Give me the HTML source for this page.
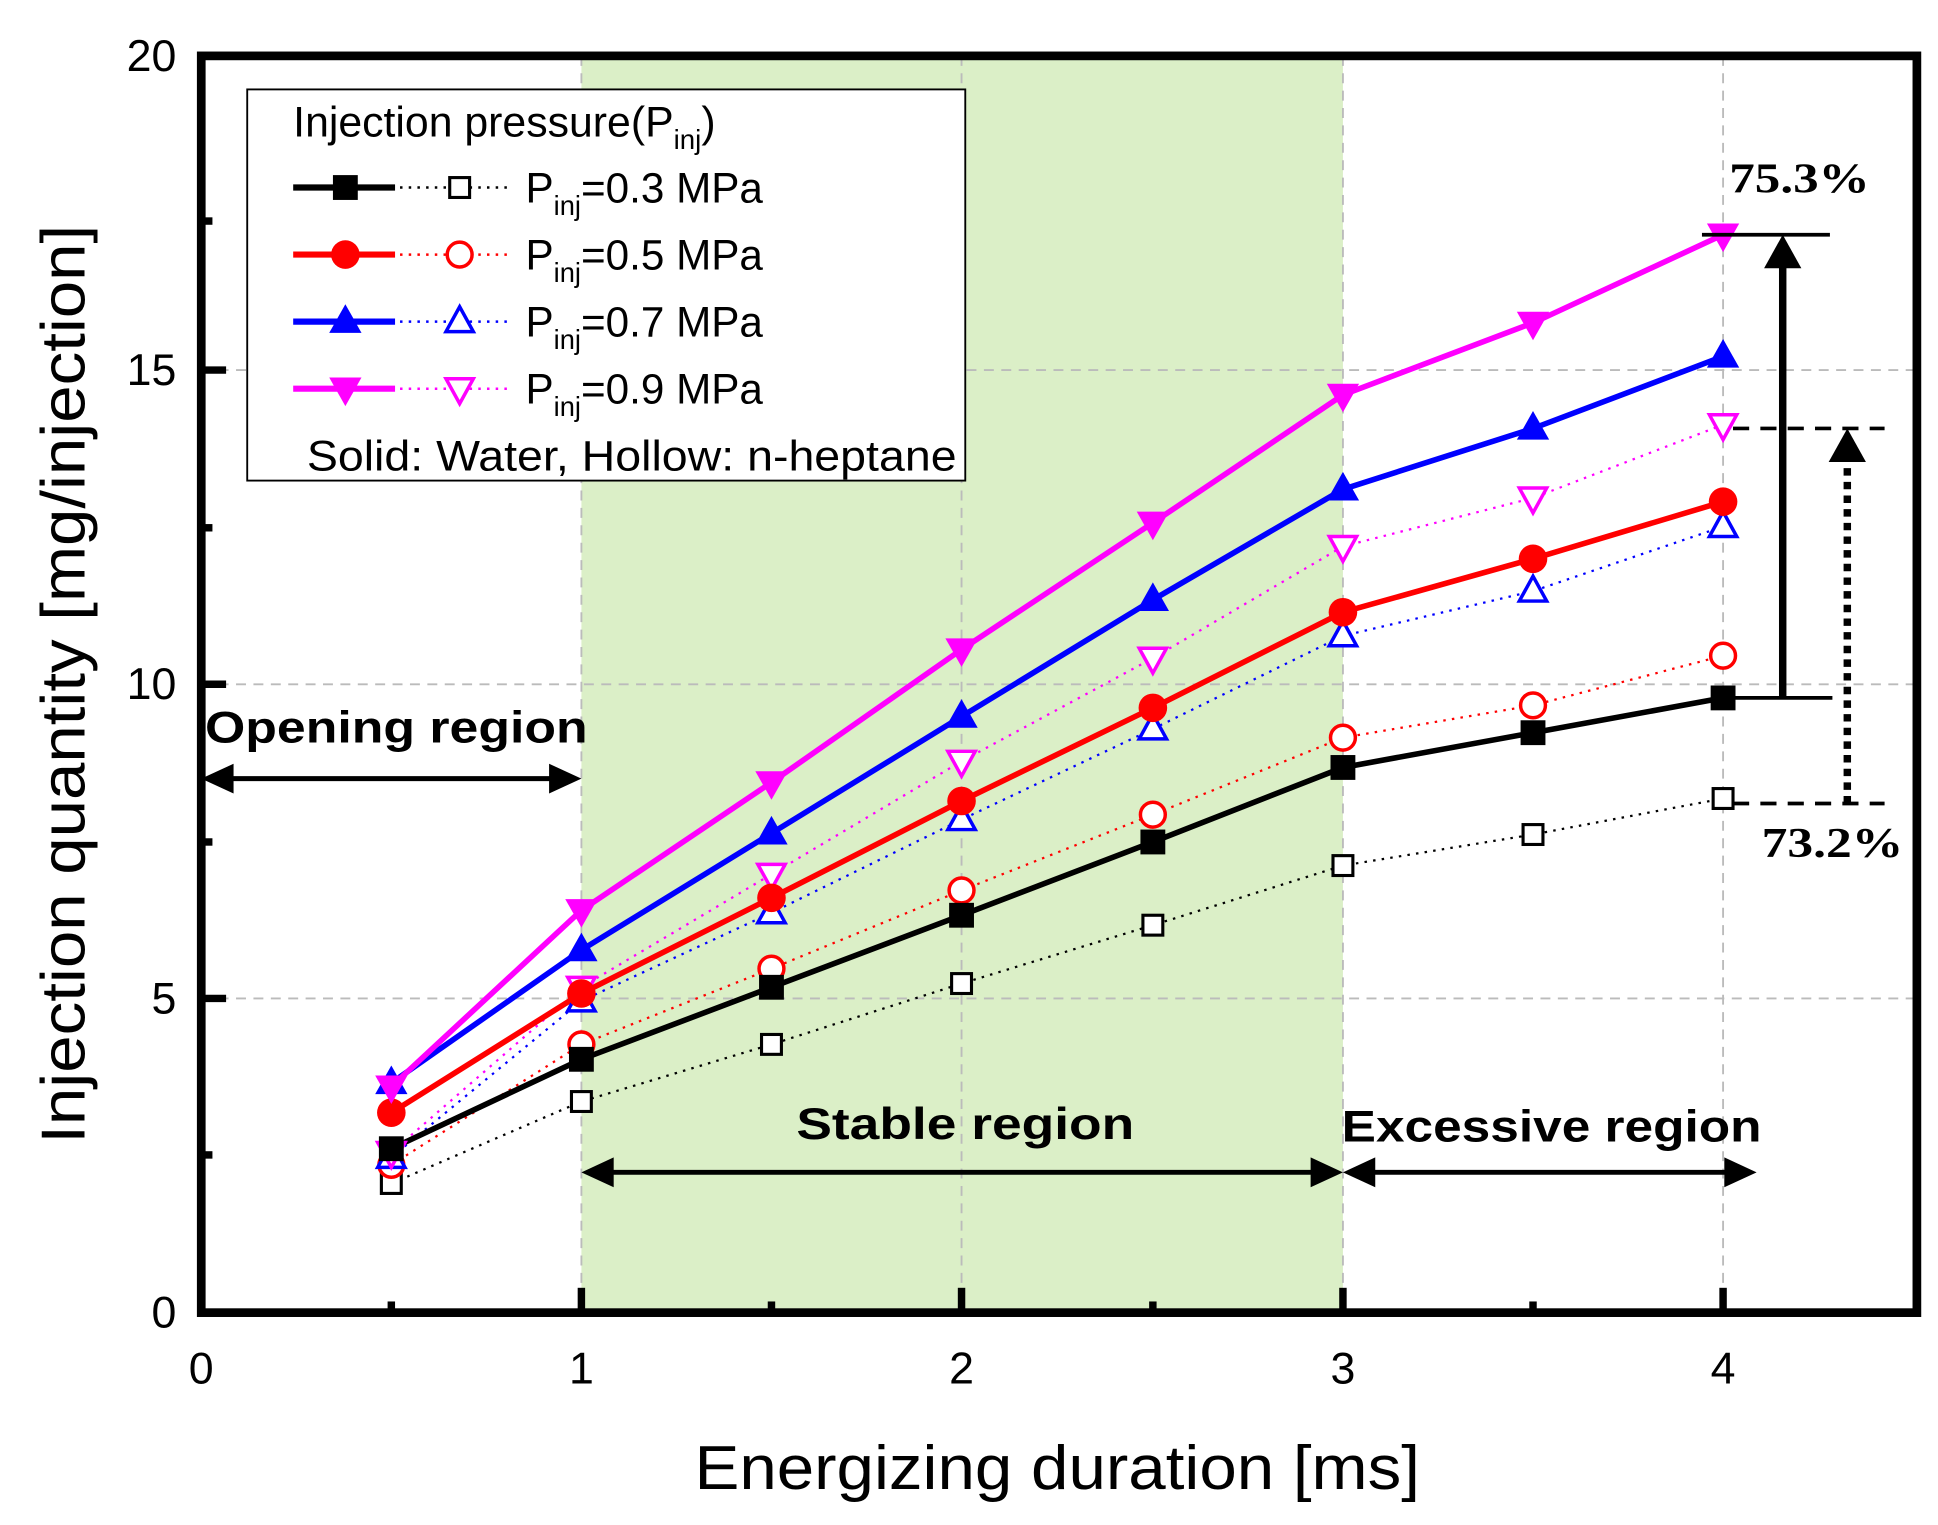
<!DOCTYPE html>
<html><head><meta charset="utf-8"><style>
html,body{margin:0;padding:0;background:#fff;}
svg{display:block;}
text{font-family:"Liberation Sans",sans-serif;}
</style></head><body>
<svg width="1938" height="1525" viewBox="0 0 1560 1228" preserveAspectRatio="none" xmlns="http://www.w3.org/2000/svg">
<defs>
<symbol id="sq" overflow="visible"><rect x="-10" y="-10" width="20" height="20" fill="#000"/></symbol>
<symbol id="hsq" overflow="visible"><rect x="-8" y="-8" width="16" height="16" fill="#fff" stroke="#000" stroke-width="2.5"/></symbol>
<symbol id="ci" overflow="visible"><circle r="11.5" fill="#f00"/></symbol>
<symbol id="hci" overflow="visible"><circle r="10" fill="#fff" stroke="#f00" stroke-width="2.8"/></symbol>
<symbol id="tu" overflow="visible"><polygon points="0,-14 13,9 -13,9" fill="#00f"/></symbol>
<symbol id="htu" overflow="visible"><polygon points="0,-12 11,8 -11,8" fill="#fff" stroke="#00f" stroke-width="2.8"/></symbol>
<symbol id="td" overflow="visible"><polygon points="0,14 13,-9 -13,-9" fill="#f0f"/></symbol>
<symbol id="htd" overflow="visible"><polygon points="0,12 11,-8 -11,-8" fill="#fff" stroke="#f0f" stroke-width="2.8"/></symbol>
</defs>
<rect width="1560" height="1228" fill="#fff"/>
<rect x="468" y="45" width="613" height="1012" fill="#dbefc7"/>
<g stroke="#bbb" stroke-width="1.5" stroke-dasharray="8,6">
<line x1="468" y1="45" x2="468" y2="1057"/><line x1="774" y1="45" x2="774" y2="1057"/>
<line x1="1081" y1="45" x2="1081" y2="1057"/><line x1="1387" y1="45" x2="1387" y2="1057"/>
<line x1="162" y1="804" x2="1543" y2="804"/><line x1="162" y1="551" x2="1543" y2="551"/><line x1="162" y1="298" x2="1543" y2="298"/>
</g>
<!-- hollow series -->
<g fill="none" stroke-width="1.8" stroke-dasharray="2,5">
<polyline stroke="#000" points="315,953 468,887 621,841 774,792 928,745 1081,697 1234,672 1387,643"/>
<polyline stroke="#f00" points="315,938 468,841 621,780 774,717 928,656 1081,594 1234,568 1387,528"/>
<polyline stroke="#00f" points="315,932 468,806 621,735 774,660 928,587 1081,512 1234,476 1387,424"/>
<polyline stroke="#f0f" points="315,928 468,795 621,704 774,613 928,530 1081,440 1234,401 1387,342"/>
</g>
<g fill="none" stroke-width="4.5" stroke-linejoin="round">
<polyline stroke="#000" points="315,925 468,853 621,795 774,737 928,678 1081,618 1234,590 1387,562"/>
<polyline stroke="#f00" points="315,896 468,800 621,723 774,645 928,570 1081,493 1234,450 1387,404"/>
<polyline stroke="#00f" points="315,872 468,765 621,671 774,577 928,483 1081,394 1234,345 1387,287"/>
<polyline stroke="#f0f" points="315,875 468,733 621,630 774,523 928,421 1081,318 1234,260 1387,189"/>
</g>
<use href="#hsq" x="315" y="953"/><use href="#hsq" x="468" y="887"/><use href="#hsq" x="621" y="841"/><use href="#hsq" x="774" y="792"/><use href="#hsq" x="928" y="745"/><use href="#hsq" x="1081" y="697"/><use href="#hsq" x="1234" y="672"/><use href="#hsq" x="1387" y="643"/>
<use href="#hci" x="315" y="938"/><use href="#hci" x="468" y="841"/><use href="#hci" x="621" y="780"/><use href="#hci" x="774" y="717"/><use href="#hci" x="928" y="656"/><use href="#hci" x="1081" y="594"/><use href="#hci" x="1234" y="568"/><use href="#hci" x="1387" y="528"/>
<use href="#htu" x="315" y="932"/><use href="#htu" x="468" y="806"/><use href="#htu" x="621" y="735"/><use href="#htu" x="774" y="660"/><use href="#htu" x="928" y="587"/><use href="#htu" x="1081" y="512"/><use href="#htu" x="1234" y="476"/><use href="#htu" x="1387" y="424"/>
<use href="#htd" x="315" y="928"/><use href="#htd" x="468" y="795"/><use href="#htd" x="621" y="704"/><use href="#htd" x="774" y="613"/><use href="#htd" x="928" y="530"/><use href="#htd" x="1081" y="440"/><use href="#htd" x="1234" y="401"/><use href="#htd" x="1387" y="342"/>
<use href="#sq" x="315" y="925"/><use href="#sq" x="468" y="853"/><use href="#sq" x="621" y="795"/><use href="#sq" x="774" y="737"/><use href="#sq" x="928" y="678"/><use href="#sq" x="1081" y="618"/><use href="#sq" x="1234" y="590"/><use href="#sq" x="1387" y="562"/>
<use href="#ci" x="315" y="896"/><use href="#ci" x="468" y="800"/><use href="#ci" x="621" y="723"/><use href="#ci" x="774" y="645"/><use href="#ci" x="928" y="570"/><use href="#ci" x="1081" y="493"/><use href="#ci" x="1234" y="450"/><use href="#ci" x="1387" y="404"/>
<use href="#tu" x="315" y="872"/><use href="#tu" x="468" y="765"/><use href="#tu" x="621" y="671"/><use href="#tu" x="774" y="577"/><use href="#tu" x="928" y="483"/><use href="#tu" x="1081" y="394"/><use href="#tu" x="1234" y="345"/><use href="#tu" x="1387" y="287"/>
<use href="#td" x="315" y="875"/><use href="#td" x="468" y="733"/><use href="#td" x="621" y="630"/><use href="#td" x="774" y="523"/><use href="#td" x="928" y="421"/><use href="#td" x="1081" y="318"/><use href="#td" x="1234" y="260"/><use href="#td" x="1387" y="189"/>

<!-- legend -->
<rect x="199" y="72" width="578" height="315" fill="#fff" stroke="#000" stroke-width="1.5"/>
<text x="236" y="110" font-size="34" textLength="340" lengthAdjust="spacingAndGlyphs">Injection pressure(P<tspan font-size="22" dy="10">inj</tspan><tspan dy="-10">)</tspan></text>
<g stroke-width="5"><line x1="236" y1="151" x2="318" y2="151" stroke="#000"/><line x1="236" y1="205" x2="318" y2="205" stroke="#f00"/><line x1="236" y1="259" x2="318" y2="259" stroke="#00f"/><line x1="236" y1="313" x2="318" y2="313" stroke="#f0f"/></g>
<g stroke-width="2" stroke-dasharray="2,5"><line x1="322" y1="151" x2="410" y2="151" stroke="#000"/><line x1="322" y1="205" x2="410" y2="205" stroke="#f00"/><line x1="322" y1="259" x2="410" y2="259" stroke="#00f"/><line x1="322" y1="313" x2="410" y2="313" stroke="#f0f"/></g>
<use href="#sq" x="278" y="151"/><use href="#hsq" x="370" y="151"/>
<use href="#ci" x="278" y="205"/><use href="#hci" x="370" y="205"/>
<use href="#tu" x="278" y="259"/><use href="#htu" x="370" y="259"/>
<use href="#td" x="278" y="313"/><use href="#htd" x="370" y="313"/>
<g font-size="34">
<text x="423" y="163">P<tspan font-size="22" dy="10">inj</tspan><tspan dy="-10">=0.3 MPa</tspan></text>
<text x="423" y="217">P<tspan font-size="22" dy="10">inj</tspan><tspan dy="-10">=0.5 MPa</tspan></text>
<text x="423" y="271">P<tspan font-size="22" dy="10">inj</tspan><tspan dy="-10">=0.7 MPa</tspan></text>
<text x="423" y="325">P<tspan font-size="22" dy="10">inj</tspan><tspan dy="-10">=0.9 MPa</tspan></text>
<text x="247" y="379" textLength="523" lengthAdjust="spacingAndGlyphs">Solid: Water, Hollow: n-heptane</text>
</g>

<!-- region annotations -->
<g font-weight="bold" font-size="36">
<text x="165" y="598" textLength="308" lengthAdjust="spacingAndGlyphs">Opening region</text>
<text x="641" y="917" textLength="272" lengthAdjust="spacingAndGlyphs">Stable region</text>
<text x="1080" y="919" textLength="338" lengthAdjust="spacingAndGlyphs">Excessive region</text>
</g>
<g stroke="#000" stroke-width="4" fill="#000">
<line x1="175" y1="627" x2="455" y2="627"/>
<polygon points="162,627 188,615 188,639" stroke="none"/><polygon points="468,627 442,615 442,639" stroke="none"/>
<line x1="482" y1="944" x2="1068" y2="944"/>
<polygon points="468,944 494,932 494,956" stroke="none"/><polygon points="1081,944 1055,932 1055,956" stroke="none"/>
<line x1="1095" y1="944" x2="1400" y2="944"/>
<polygon points="1081,944 1107,932 1107,956" stroke="none"/><polygon points="1414,944 1388,932 1388,956" stroke="none"/>
</g>
<!-- percent annotations -->
<g stroke="#000" fill="#000">
<line x1="1370" y1="189" x2="1473" y2="189" stroke-width="3"/>
<line x1="1395" y1="562" x2="1475" y2="562" stroke-width="3"/>
<line x1="1435" y1="562" x2="1435" y2="210" stroke-width="6"/>
<polygon points="1435,189 1420,216 1450,216" stroke="none"/>
<line x1="1395" y1="345" x2="1517" y2="345" stroke-width="3" stroke-dasharray="13,9"/>
<line x1="1395" y1="647" x2="1517" y2="647" stroke-width="3" stroke-dasharray="13,9"/>
<line x1="1487" y1="647" x2="1487" y2="368" stroke-width="6" stroke-dasharray="6,5"/>
<polygon points="1487,345 1472,372 1502,372" stroke="none"/>
</g>
<g font-family="Liberation Serif" font-weight="bold" font-size="34">
<text x="1392" y="155" textLength="113" lengthAdjust="spacingAndGlyphs" style="font-family:'Liberation Serif',serif">75.3%</text>
<text x="1418" y="690" textLength="114" lengthAdjust="spacingAndGlyphs" style="font-family:'Liberation Serif',serif">73.2%</text>
</g>

<!-- axes frame -->
<rect x="162" y="45" width="1381" height="1012" fill="none" stroke="#000" stroke-width="7"/>
<g stroke="#000" stroke-width="6">
<line x1="468" y1="1057" x2="468" y2="1037"/><line x1="774" y1="1057" x2="774" y2="1037"/><line x1="1081" y1="1057" x2="1081" y2="1037"/><line x1="1387" y1="1057" x2="1387" y2="1037"/>
<line x1="315" y1="1057" x2="315" y2="1048"/><line x1="621" y1="1057" x2="621" y2="1048"/><line x1="928" y1="1057" x2="928" y2="1048"/><line x1="1234" y1="1057" x2="1234" y2="1048"/>
<line x1="162" y1="804" x2="182" y2="804"/><line x1="162" y1="551" x2="182" y2="551"/><line x1="162" y1="298" x2="182" y2="298"/>
<line x1="162" y1="930" x2="171" y2="930"/><line x1="162" y1="678" x2="171" y2="678"/><line x1="162" y1="425" x2="171" y2="425"/><line x1="162" y1="178" x2="171" y2="178"/>
</g>
<g font-size="36" text-anchor="end">
<text x="142" y="1069">0</text><text x="142" y="816">5</text><text x="142" y="563">10</text><text x="142" y="310">15</text><text x="142" y="57">20</text>
</g>
<g font-size="36" text-anchor="middle">
<text x="162" y="1114">0</text><text x="468" y="1114">1</text><text x="774" y="1114">2</text><text x="1081" y="1114">3</text><text x="1387" y="1114">4</text>
</g>
<text x="851" y="1199" font-size="50" text-anchor="middle" textLength="584" lengthAdjust="spacingAndGlyphs">Energizing duration [ms]</text>
<text transform="translate(68,551) rotate(-90)" font-size="50" text-anchor="middle" textLength="740" lengthAdjust="spacingAndGlyphs">Injection quantity [mg/injection]</text>
</svg>
</body></html>
